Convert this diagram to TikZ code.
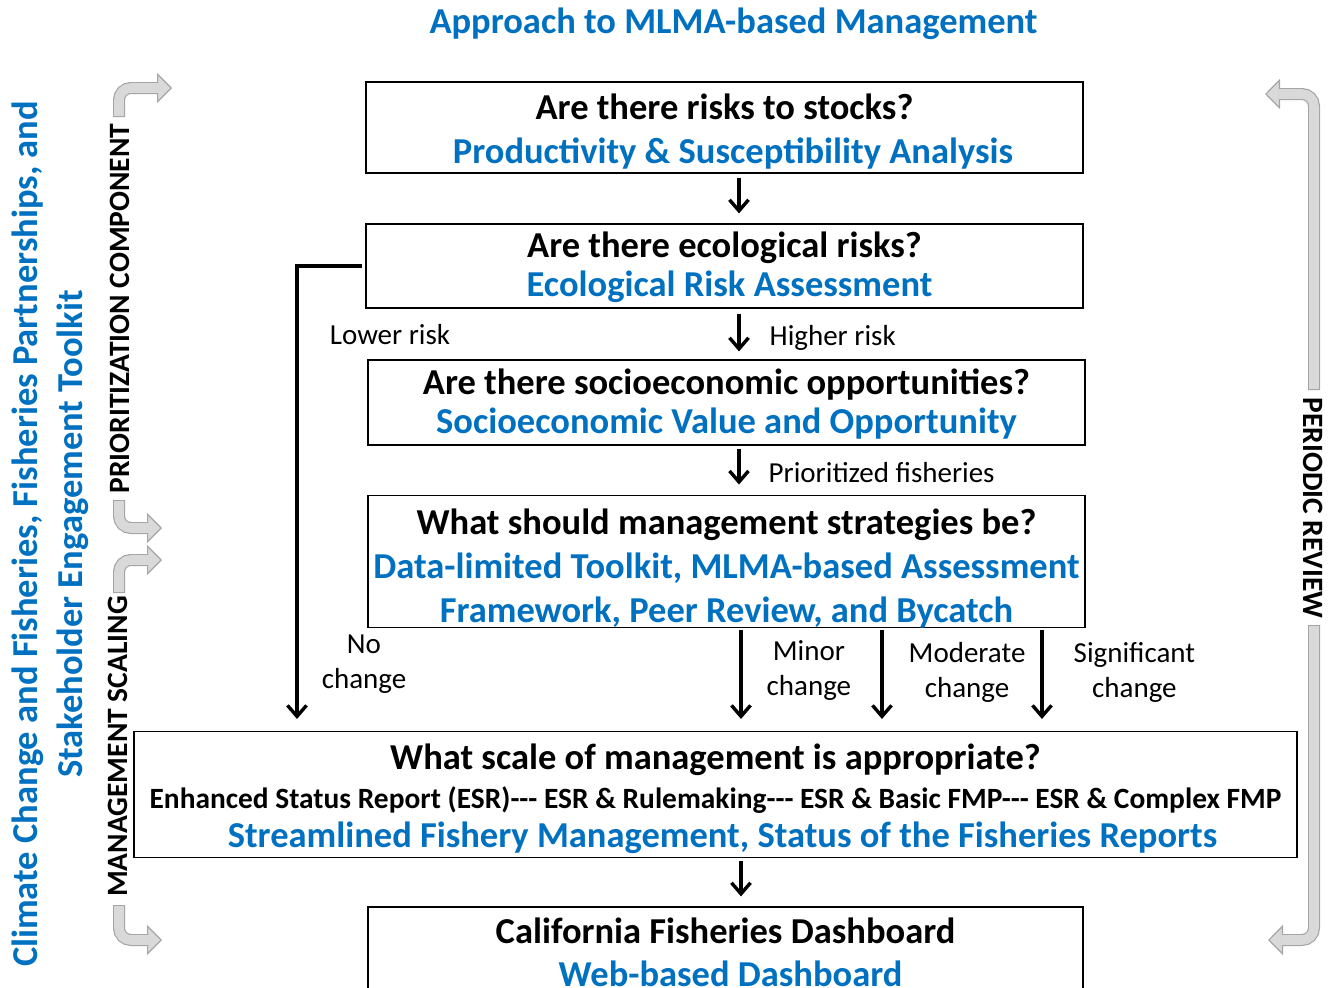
\documentclass[tikz,border=0pt]{standalone}
\usepackage{fontspec}
\setmainfont{Carlito}
\usepackage{xcolor}
\usepackage{tikz}
\usetikzlibrary{positioning}
\usetikzlibrary{arrows.meta}
\definecolor{mlmablue}{HTML}{0070C0}
\definecolor{bandfill}{HTML}{D9D9D9}
\definecolor{bandline}{HTML}{A5A5A5}
\tikzset{flow edge/.style = {draw, line width=3.4pt, -{Straight Barb[length=11pt,width=19pt,line width=3.4pt]}}}
\newcommand{\greyband}[1]{%
  \draw[bandline, line width=12pt, rounded corners=12pt, -{Triangle[length=15pt,width=30pt,line width=1.2pt,fill=bandfill]}] #1;
  \draw[bandfill, line width=9.6pt, rounded corners=12pt, shorten <=1.2pt, shorten >=13.5pt] #1;}
\newcommand{\lift}[1]{\rule{0pt}{#1pt}}

\begin{document}
\begin{tikzpicture}[x=1pt,y=-1pt,
    main node/.style={draw,line width=1.2pt,align=center,font=\fontsize{36.5}{44}\selectfont\bfseries},
    side node/.style={inner sep=0pt,align=center,font=\fontsize{29}{35}\selectfont},
    caps node/.style={inner sep=0pt,font=\fontsize{29.5}{35}\selectfont\bfseries},
    every edge/.style={flow edge}]
  \useasboundingbox (0,0) rectangle (1331,988);

  \node[font=\fontsize{36.5}{44}\selectfont\bfseries, text=mlmablue] (title) at (733.5,24) {Approach to MLMA-based Management};

  % the chain of questions
  \node[main node, minimum width=717pt, minimum height=91pt] (1) at (724.5,127.5) {\lift{33}Are there risks to stocks?\\\hspace*{17pt}\textcolor{mlmablue}{Productivity \& Susceptibility Analysis}};
  \node[main node, minimum width=717pt, minimum height=84pt, font=\fontsize{36.5}{39}\selectfont\bfseries] (2) [below of=1, node distance=138.5pt] {\lift{28}Are there ecological risks?\\\hspace*{10pt}\textcolor{mlmablue}{Ecological Risk Assessment}};
  \node[main node, minimum width=717pt, minimum height=85pt, font=\fontsize{36.5}{39}\selectfont\bfseries] (3) [below of=2, node distance=136.5pt, xshift=2pt] {\lift{28}Are there socioeconomic opportunities?\\\textcolor{mlmablue}{Socioeconomic Value and Opportunity}};
  \node[main node, minimum width=717pt, minimum height=129pt, inner sep=0pt] (4) [below of=3, node distance=159pt] {\lift{39}What should management strategies be?\\\textcolor{mlmablue}{Data-limited Toolkit, MLMA-based Assessment}\\\textcolor{mlmablue}{Framework, Peer Review, and Bycatch}};
  \node[main node, minimum width=1163pt, minimum height=125pt, font=\fontsize{36.5}{39}\selectfont\bfseries] (5) [below of=4, node distance=233pt, xshift=-11pt] {\lift{35}What scale of management is appropriate?\\{\fontsize{29.4}{39}\selectfont Enhanced Status Report (ESR)-{}-{}- ESR \& Rulemaking-{}-{}- ESR \& Basic FMP-{}-{}- ESR \& Complex FMP}\\\hspace*{14pt}\textcolor{mlmablue}{Streamlined Fishery Management, Status of the Fisheries Reports}};
  \node[main node, minimum width=715pt, minimum height=90pt, font=\fontsize{36.5}{43}\selectfont\bfseries] (6) [below of=5, node distance=157.5pt, xshift=10pt] {California Fisheries Dashboard\\\hspace*{10pt}\textcolor{mlmablue}{Web-based Dashboard}};

  \path[shorten <=4pt, shorten >=10pt] ([xshift=14.5pt]1.south) edge ([xshift=14.5pt]2.north);
  \path[shorten <=5pt, shorten >=8pt] ([xshift=14.5pt]2.south) edge node[side node, right=29pt, yshift=-3.5pt] {Higher risk} ([xshift=12.5pt]3.north);
  \path[shorten <=3pt, shorten >=10pt] ([xshift=12.5pt]3.south) edge node[side node, right=28pt, yshift=-2.5pt] {Prioritized fisheries} ([xshift=12.5pt]4.north);
  \path[shorten <=2pt, shorten >=12pt] ([xshift=14.5pt]4.south) edge node[side node, right=24pt, yshift=9.5pt] {Minor\\change} ([xshift=25.5pt]5.north);
  \path[shorten <=2pt, shorten >=12pt] ([xshift=155.5pt]4.south) edge node[side node, right=25pt, yshift=7.5pt] {Moderate\\change} ([xshift=166.5pt]5.north);
  \path[shorten <=2pt, shorten >=12pt] ([xshift=315.5pt]4.south) edge node[side node, right=30pt, yshift=7.5pt] {Significant\\change} ([xshift=326.5pt]5.north);
  \path[shorten <=3pt, shorten >=10pt] ([xshift=25.5pt]5.south) edge ([xshift=15.5pt]6.north);
  \draw[flow edge, shorten <=3pt, shorten >=12pt] (2.west) -| ([xshift=-418.5pt]5.north);

  \node[side node] (lower) at (390,335) {Lower risk};
  \node[side node] (nochange) at (364,664.5) {No\\change};

  % side texts and grey bands
  \node[rotate=90, align=center, text=mlmablue, font=\fontsize{36.5}{45}\selectfont\bfseries] (toolkit) at (50.5,534) {Climate Change and Fisheries, Fisheries Partnerships, and\\Stakeholder Engagement Toolkit};
  \node[caps node, rotate=90] (prior) at (120,308.5) {PRIORITIZATION COMPONENT};
  \node[caps node, rotate=90] (scaling) at (118,746.5) {MANAGEMENT SCALING};
  \node[caps node, rotate=-90] (review) at (1313,508) {PERIODIC REVIEW};

  \greyband{(119,117) -- (119,88) -- (172,88)}
  \greyband{(119,500) -- (119,528) -- (162,528)}
  \greyband{(119,593) -- (119,560) -- (162,560)}
  \greyband{(119,905) -- (119,940) -- (162,940)}
  \greyband{(1314,390) -- (1314,94) -- (1265,94)}
  \greyband{(1314,625) -- (1314,940) -- (1268,940)}
\end{tikzpicture}
\end{document}
